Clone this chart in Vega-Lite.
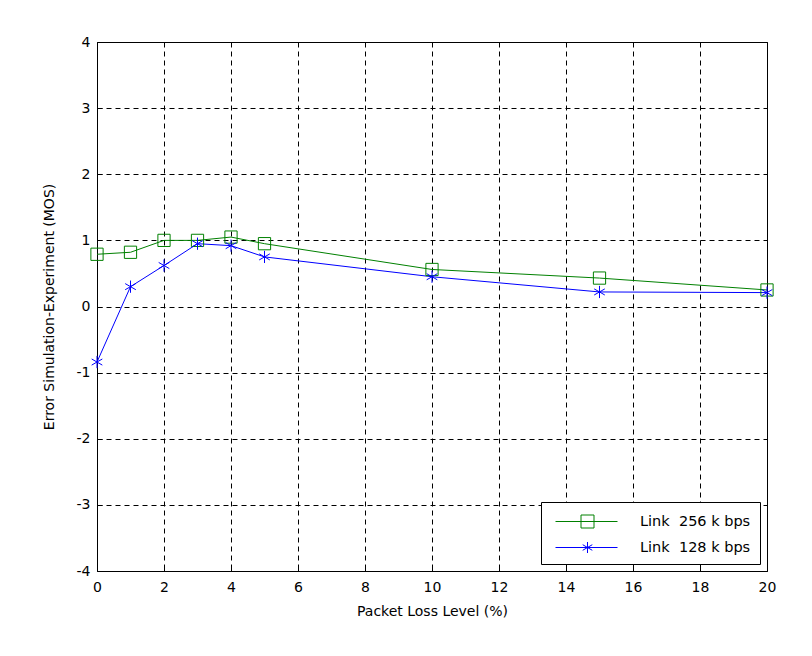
{
  "$schema": "https://vega.github.io/schema/vega-lite/v6.json",
  "width": 670,
  "height": 529,
  "autosize": "none",
  "padding": {"left": 97, "top": 42, "right": 45, "bottom": 85},
  "background": "white",
  "config": {
    "font": "DejaVu Sans",
    "view": {"stroke": "black", "strokeWidth": 1},
    "axis": {
      "domain": false,
      "grid": true,
      "gridColor": "black",
      "gridDash": [5, 4],
      "gridWidth": 1,
      "gridOpacity": 1,
      "tickColor": "black",
      "tickSize": -5,
      "labelFlush": false,
      "labelFont": "DejaVu Sans",
      "labelFontSize": 14,
      "labelColor": "black",
      "labelExpr": "datum.value + ''",
      "titleFont": "DejaVu Sans",
      "titleFontSize": 14,
      "titleFontWeight": "normal",
      "titleColor": "black"
    }
  },
  "data": {
    "values": [
      {"x": 0, "y": 0.79, "series": "Link\u00a0 256 k bps"},
      {"x": 1, "y": 0.82, "series": "Link\u00a0 256 k bps"},
      {"x": 2, "y": 1.0, "series": "Link\u00a0 256 k bps"},
      {"x": 3, "y": 1.0, "series": "Link\u00a0 256 k bps"},
      {"x": 4, "y": 1.05, "series": "Link\u00a0 256 k bps"},
      {"x": 5, "y": 0.95, "series": "Link\u00a0 256 k bps"},
      {"x": 10, "y": 0.56, "series": "Link\u00a0 256 k bps"},
      {"x": 15, "y": 0.43, "series": "Link\u00a0 256 k bps"},
      {"x": 20, "y": 0.25, "series": "Link\u00a0 256 k bps"},
      {"x": 0, "y": -0.84, "series": "Link\u00a0 128 k bps"},
      {"x": 1, "y": 0.3, "series": "Link\u00a0 128 k bps"},
      {"x": 2, "y": 0.62, "series": "Link\u00a0 128 k bps"},
      {"x": 3, "y": 0.95, "series": "Link\u00a0 128 k bps"},
      {"x": 4, "y": 0.92, "series": "Link\u00a0 128 k bps"},
      {"x": 5, "y": 0.75, "series": "Link\u00a0 128 k bps"},
      {"x": 10, "y": 0.45, "series": "Link\u00a0 128 k bps"},
      {"x": 15, "y": 0.22, "series": "Link\u00a0 128 k bps"},
      {"x": 20, "y": 0.21, "series": "Link\u00a0 128 k bps"}
    ]
  },
  "encoding": {
    "x": {
      "field": "x", "type": "quantitative",
      "scale": {"domain": [0, 20], "nice": false, "zero": false},
      "axis": {"values": [0, 2, 4, 6, 8, 10, 12, 14, 16, 18, 20], "title": "Packet Loss Level (%)", "labelPadding": 14, "titlePadding": 10}
    },
    "y": {
      "field": "y", "type": "quantitative",
      "scale": {"domain": [-4, 4], "nice": false},
      "axis": {"values": [-4, -3, -2, -1, 0, 1, 2, 3, 4], "title": "Error Simulation-Experiment (MOS)", "labelPadding": 12, "titlePadding": 20}
    }
  },
  "layer": [
    {
      "mark": {"type": "line", "strokeWidth": 1},
      "encoding": {
        "color": {
          "field": "series", "type": "nominal",
          "scale": {"domain": ["Link\u00a0 256 k bps", "Link\u00a0 128 k bps"], "range": ["#008000", "#0000ff"]},
          "legend": null
        }
      }
    },
    {
      "mark": {"type": "point", "filled": false, "strokeWidth": 1, "opacity": 1},
      "encoding": {
        "color": {
          "field": "series", "type": "nominal",
          "scale": {"domain": ["Link\u00a0 256 k bps", "Link\u00a0 128 k bps"], "range": ["#008000", "#0000ff"]},
          "legend": null
        },
        "shape": {
          "field": "series", "type": "nominal",
          "scale": {"domain": ["Link\u00a0 256 k bps", "Link\u00a0 128 k bps"], "range": ["square", "M0,-1V1M-0.87,-0.5L0.87,0.5M-0.87,0.5L0.87,-0.5"]},
          "legend": null
        },
        "size": {"value": 150}
      }
    },
    {
      "transform": [{"filter": "false"}],
      "mark": {"type": "point", "filled": false, "strokeWidth": 1, "opacity": 1},
      "encoding": {
        "stroke": {
          "field": "series", "type": "nominal",
          "scale": {"domain": ["Link\u00a0 256 k bps", "Link\u00a0 128 k bps"], "range": ["#008000", "#0000ff"]},
          "legend": null
        },
        "shape": {
          "field": "series", "type": "nominal",
          "title": null,
          "scale": {"domain": ["Link\u00a0 256 k bps", "Link\u00a0 128 k bps"], "range": ["M-0.5,0H5.7M2.05,-0.65H3.35V0.65H2.05Z", "M-0.5,0H5.7M2.7,-0.55V0.55M2.22,-0.28L3.18,0.28M2.22,0.28L3.18,-0.28"]},
          "legend": {
            "orient": "bottom-right",
            "offset": 7,
            "fillColor": "white",
            "strokeColor": "black",
            "padding": 9,
            "symbolSize": 400,
            "symbolStrokeWidth": 1,
            "symbolFillColor": "transparent",
            "labelOffset": 69,
            "labelFont": "DejaVu Sans",
            "labelFontSize": 14.5,
            "labelColor": "black",
            "rowPadding": 7
          }
        }
      }
    }
  ],
  "resolve": {"scale": {"shape": "independent", "stroke": "independent"}}
}
